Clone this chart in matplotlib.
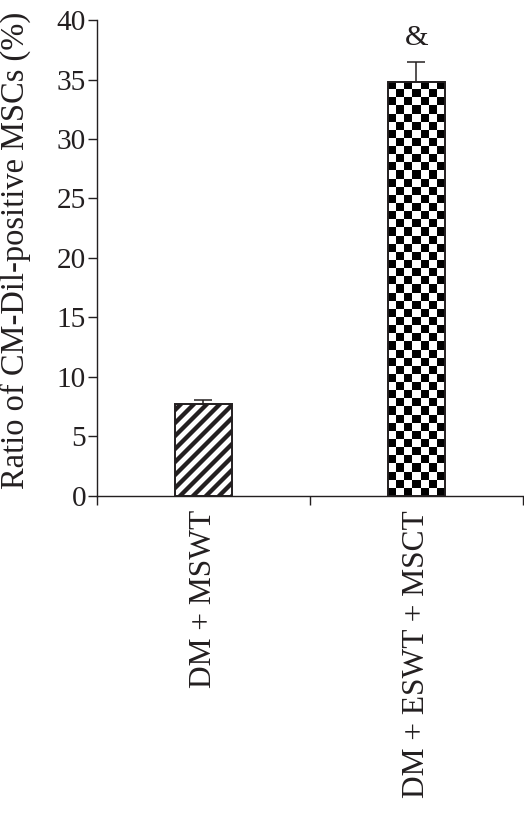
import numpy as np
import matplotlib.pyplot as plt

groups = ['DM + MSWT', 'DM + ESWT + MSCT']
ratio = [7.7, 34.8]
err = [0.35, 1.7]
marks = ['', '&']

ink = '#231f20'
dpi = 78
plt.rcParams['font.family'] = ['Liberation Serif', 'DejaVu Serif']
plt.rcParams['hatch.linewidth'] = 4.0

fig = plt.figure(figsize=(524 / dpi, 817 / dpi), dpi=dpi)
ax = fig.add_axes([0.185, 0.393, 0.813, 0.5825])

x = np.arange(len(groups))
bars = ax.bar(x, ratio, width=0.265, color='white', edgecolor=ink, linewidth=1.8,
              yerr=err, error_kw=dict(ecolor=ink, elinewidth=1.4, capsize=8, capthick=1.4,
                                      zorder=1),
              zorder=3)
bars[0].set_hatch('//')
bars[1].set_facecolor('none')

ax.set_xlim(-0.5, 1.5)
ax.set_ylim(0, 40)

# checkerboard fill for the second bar
fig.canvas.draw()
b = bars[1]
x0, y0 = b.get_x(), b.get_y()
w, h = b.get_width(), b.get_height()
p0 = ax.transData.transform((x0, y0))
p1 = ax.transData.transform((x0 + w, y0 + h))
ncol = 7
sq = (p1[0] - p0[0]) / ncol
nrow = int(round((p1[1] - p0[1]) / sq))
board = (np.add.outer(np.arange(nrow), np.arange(ncol)) % 2).astype(float)
im = ax.imshow(board, cmap='gray', extent=(x0, x0 + w, y0, y0 + h), aspect='auto',
               interpolation='nearest', origin='upper', zorder=2.5)
ax.set_aspect('auto')
ax.set_xlim(-0.5, 1.5)
ax.set_ylim(0, 40)

for xi, v, e, m in zip(x, ratio, err, marks):
    if m:
        ax.text(xi, v + e + 0.9, m, ha='center', va='bottom', fontsize=28, color=ink)

ax.spines['top'].set_visible(False)
ax.spines['right'].set_visible(False)
for s in ['left', 'bottom']:
    ax.spines[s].set_color(ink)
    ax.spines[s].set_linewidth(1.3)

ax.set_yticks(np.arange(0, 41, 5))
ax.tick_params(axis='y', direction='out', length=8, width=1.3, color=ink,
               labelsize=27, labelcolor=ink, pad=2)
ax.set_xticks(x)
ax.set_xticklabels(groups, rotation=90)
ax.set_xticks([-0.5, 0.5, 1.5], minor=True)
ax.tick_params(axis='x', which='major', length=0, labelsize=29, labelcolor=ink, pad=13)
ax.tick_params(axis='x', which='minor', direction='out', length=8, width=1.3, color=ink)
ax.set_ylabel('Ratio of CM-Dil-positive MSCs (%)', fontsize=30, color=ink)
ax.yaxis.set_label_coords(-0.155, 0.515)

fig.savefig('out.png', dpi=dpi)
